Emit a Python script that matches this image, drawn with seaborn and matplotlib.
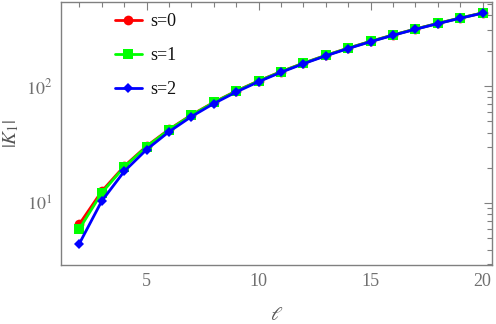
import matplotlib
matplotlib.use("Agg")
import matplotlib.pyplot as plt
import matplotlib.ticker as mticker
import seaborn as sns
import pandas as pd

ell = list(range(2, 21))
s0 = [6.6, 12.6, 20.6, 30.6, 42.5, 56.5, 72.5, 90.5, 110.5, 132.5, 156.5,
      182.5, 210.5, 240.5, 272.5, 306.5, 342.5, 380.5, 420.5]
s1 = [6.0, 12.2, 20.3, 30.3, 42.2, 56.2, 72.2, 90.2, 110.2, 132.2, 156.2,
      182.2, 210.2, 240.2, 272.2, 306.2, 342.2, 380.2, 420.2]
s2 = [4.5, 10.4, 18.6, 28.6, 40.6, 54.7, 70.7, 88.7, 108.7, 130.7, 154.8,
      180.8, 208.8, 238.8, 270.8, 304.8, 340.8, 378.8, 418.8]
labels = ["s=0", "s=1", "s=2"]

df = pd.concat([
    pd.DataFrame({"l": ell, "K": vals, "s": lab})
    for vals, lab in zip([s0, s1, s2], labels)
])

sns.set_theme(style="white")
plt.rcParams["font.family"] = ["Liberation Serif", "DejaVu Serif"]
plt.rcParams["mathtext.fontset"] = "stix"

fig = plt.figure(figsize=(4.96, 3.24), dpi=100)
ax = fig.add_axes([0.123, 0.182, 0.868, 0.812])

palette = {"s=0": "#ff0000", "s=1": "#00ff00", "s=2": "#0000ff"}
markers = {"s=0": "o", "s=1": "s", "s=2": "D"}
sizes_m = {"s=0": 7, "s=1": 7.5, "s=2": 5.5}
for lab in labels:
    sub = df[df["s"] == lab]
    sns.lineplot(data=sub, x="l", y="K", color=palette[lab], marker=markers[lab],
                 markersize=sizes_m[lab], markeredgewidth=0, linewidth=2.0,
                 label=lab, ax=ax)

ax.set_yscale("log")
ax.set_xlim(1.18, 20.4)
ax.set_ylim(2.95, 522)

ax.xaxis.set_major_locator(mticker.FixedLocator([5, 10, 15, 20]))
ax.xaxis.set_minor_locator(mticker.FixedLocator(list(range(2, 21))))
ax.yaxis.set_major_locator(mticker.FixedLocator([10, 100]))
ax.yaxis.set_major_formatter(mticker.FixedFormatter([r"$10^1$", r"$10^2$"]))
ax.yaxis.set_minor_locator(mticker.FixedLocator(
    [3, 4, 5, 6, 7, 8, 9, 20, 30, 40, 50, 60, 70, 80, 90, 200, 300, 400, 500]))
ax.yaxis.set_minor_formatter(mticker.NullFormatter())

gray = "#808080"
for sp in ax.spines.values():
    sp.set_visible(True)
    sp.set_color(gray)
    sp.set_linewidth(1.0)
ax.tick_params(which="both", direction="in", top=True, right=True,
               color=gray, labelcolor="#707070", labelsize=13)
ax.tick_params(which="major", length=6, width=0.8, pad=6)
ax.tick_params(which="minor", length=3.5, width=0.8)

ax.set_xlabel(r"$\ell$", fontsize=14, color="#555555", labelpad=12)
ax.set_ylabel(r"$|K_1|$", fontsize=14, color="#555555", labelpad=4)

leg = ax.legend(loc="upper left", bbox_to_anchor=(0.087, 1.02), frameon=False,
                fontsize=13, labelspacing=0.95, handlelength=1.5,
                handletextpad=0.45,
                prop={"family": ["Liberation Serif", "DejaVu Serif"], "size": 13})
for t in leg.get_texts():
    t.set_color("#111111")

fig.savefig("out.png", dpi=100)
